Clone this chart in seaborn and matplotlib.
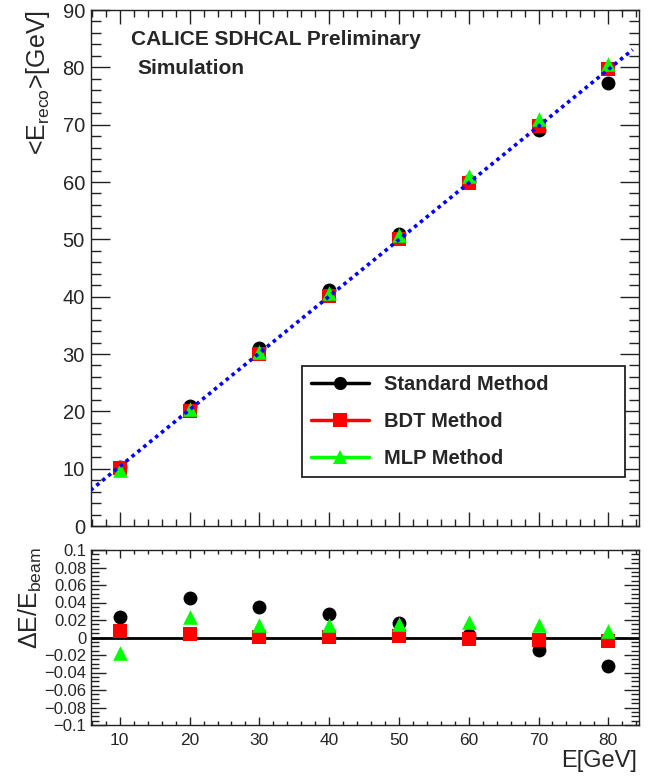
import numpy as np
import pandas as pd
import matplotlib
matplotlib.use("Agg")
import matplotlib.pyplot as plt
from matplotlib.lines import Line2D
from matplotlib.ticker import MultipleLocator
import seaborn as sns

# ---- data ----
energies = [10, 20, 30, 40, 50, 60, 70, 80]
std_reco = [10.24, 20.9, 31.05, 41.1, 50.85, 60.2, 69.0, 77.35]
bdt_reco = [10.08, 20.08, 30.05, 40.05, 50.1, 59.9, 69.8, 79.7]
mlp_reco = [9.83, 20.45, 30.42, 40.57, 50.8, 61.05, 70.95, 80.56]
std_res = [0.024, 0.045, 0.035, 0.027, 0.017, 0.003, -0.014, -0.033]
bdt_res = [0.008, 0.004, 0.001, 0.001, 0.002, -0.002, -0.003, -0.004]
mlp_res = [-0.018, 0.023, 0.014, 0.014, 0.016, 0.018, 0.014, 0.007]
fit_slope, fit_intercept = 0.989, 0.5
fit_range = [5.8, 83.5]
series_names = ["Standard Method", "BDT Method", "MLP Method"]
top_label = "<E$_{reco}$>[GeV]"
bottom_label = "\u0394E/E$_{beam}$"
x_label = "E[GeV]"
texts = ["CALICE SDHCAL Preliminary", "Simulation"]

sns.set_style("ticks")
plt.rcParams["font.family"] = ["Liberation Sans", "DejaVu Sans"]
plt.rcParams["mathtext.fontset"] = "custom"
plt.rcParams["mathtext.rm"] = "Liberation Sans"
plt.rcParams["mathtext.it"] = "Liberation Sans:italic"
plt.rcParams["mathtext.bf"] = "Liberation Sans:bold"
plt.rcParams["mathtext.default"] = "rm"

W, H = 654, 779
fig = plt.figure(figsize=(W / 100, H / 100), dpi=100)

def rect(l, t, r, b):
    return [l / W, 1 - b / H, (r - l) / W, (b - t) / H]

ax1 = fig.add_axes(rect(90.5, 10, 639, 526))
ax2 = fig.add_axes(rect(90.5, 550, 639, 725))

colors = ["black", "#ff0000", "#00ff00"]
markers = ["o", "s", "^"]
sizes = [100, 105, 110]

df_top = pd.DataFrame({"E": energies * 3,
                       "val": std_reco + bdt_reco + mlp_reco,
                       "res": std_res + bdt_res + mlp_res,
                       "method": sum([[n] * len(energies) for n in series_names], [])})

xlim = (5.8, 84.4)

# top panel
for name, c, m, s in zip(series_names, colors, markers, sizes):
    sub = df_top[df_top.method == name]
    sns.scatterplot(data=sub, x="E", y="val", color=c, marker=m, s=s,
                    linewidth=0, ax=ax1, zorder=3, legend=False)
fx = np.array(fit_range)
ax1.plot(fx, fit_slope * fx + fit_intercept, color="#0000ff", lw=2.6,
         linestyle=(0, (1.0, 1.1)), zorder=4)
ax1.set_xlim(*xlim)
ax1.set_ylim(0, 90)

# bottom panel
ax2.axhline(0, color="black", lw=2, zorder=2)
for name, c, m, s in zip(series_names, colors, markers, sizes):
    sub = df_top[df_top.method == name]
    sns.scatterplot(data=sub, x="E", y="res", color=c, marker=m, s=s,
                    linewidth=0, ax=ax2, zorder=3, legend=False)
ax2.set_xlim(*xlim)
ax2.set_ylim(-0.1, 0.1)

for ax in (ax1, ax2):
    ax.set_xlabel("")
    ax.set_ylabel("")
    for sp in ax.spines.values():
        sp.set_linewidth(1.0)
        sp.set_color("#222222")
    ax.xaxis.set_major_locator(MultipleLocator(10))
    ax.xaxis.set_minor_locator(MultipleLocator(2))

ax1.yaxis.set_major_locator(MultipleLocator(10))
ax1.yaxis.set_minor_locator(MultipleLocator(2))
ax1.tick_params(axis="both", which="both", direction="in", top=True, right=True,
                color="#222222", width=1.0)
ax1.tick_params(axis="y", which="major", length=14, labelsize=14.5, pad=4)
ax1.tick_params(axis="y", which="minor", length=7)
ax1.tick_params(axis="x", which="major", length=10, labelbottom=False)
ax1.tick_params(axis="x", which="minor", length=5)

ax2.yaxis.set_major_locator(MultipleLocator(0.02))
ax2.yaxis.set_minor_locator(MultipleLocator(0.005))
ax2.yaxis.set_major_formatter(plt.FuncFormatter(
    lambda v, p: "0" if abs(v) < 1e-9 else ("%g" % round(v, 3)).replace("-", "\u2212")))
ax2.tick_params(axis="both", which="both", direction="in", top=True, right=True,
                color="#222222", width=1.0)
ax2.tick_params(axis="y", which="major", length=11, labelsize=12, pad=3)
ax2.tick_params(axis="y", which="minor", length=6)
ax2.tick_params(axis="x", which="major", length=6, labelsize=12.5, pad=6)
ax2.tick_params(axis="x", which="minor", length=3)

# labels
fig.text(38.5 / W, 1 - 10 / H, top_label, rotation=90, ha="center", va="top", fontsize=18)
fig.text(30 / W, 1 - 547 / H, bottom_label, rotation=90, ha="center", va="top", fontsize=18)
fig.text(637 / W, 1 - 761 / H, x_label, ha="right", va="center", fontsize=17)

fig.text(131 / W, 1 - 45 / H, texts[0], ha="left", va="baseline", fontsize=15, fontweight="bold")
fig.text(137 / W, 1 - 74 / H, texts[1], ha="left", va="baseline", fontsize=15, fontweight="bold")

# legend
handles = [Line2D([0], [0], color=c, lw=2.5, marker=m, markersize=ms, markeredgewidth=0)
           for c, m, ms in zip(colors, markers, [9.5, 10, 10])]
x0, y0 = (302 - 90.5) / (639 - 90.5), 1 - (476 - 10) / (526 - 10)
w, h = (625 - 302) / (639 - 90.5), (476 - 366) / (526 - 10)
leg = ax1.legend(handles, series_names, loc="upper left",
                 bbox_to_anchor=(x0, y0, w, h), mode="expand", borderaxespad=0,
                 fancybox=False, framealpha=1, edgecolor="#222222",
                 prop={"weight": "bold", "size": 14.5}, handlelength=2.9,
                 handletextpad=0.7, labelspacing=0.9, borderpad=0.45)
leg.get_frame().set_linewidth(1.3)
leg.set_zorder(5)

fig.savefig("out.png", dpi=100)
